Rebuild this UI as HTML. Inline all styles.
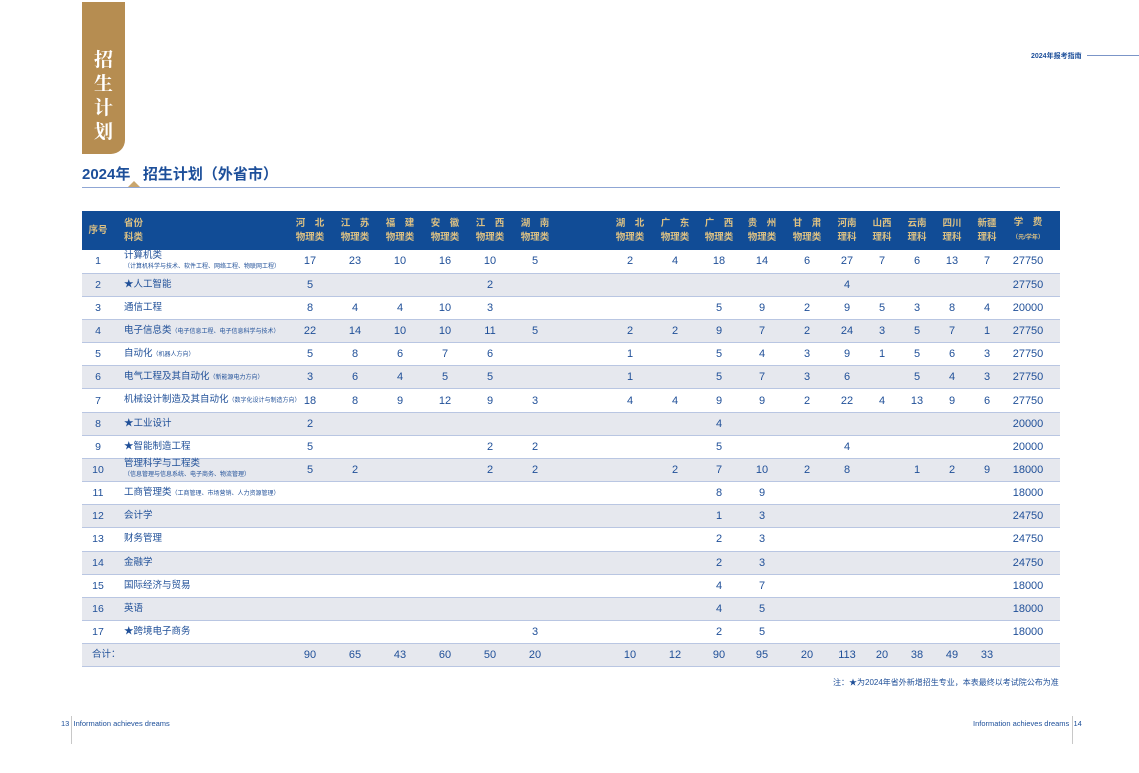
<!DOCTYPE html>
<html><head><meta charset="utf-8"><style>
*{margin:0;padding:0;box-sizing:border-box}
body{width:1139px;height:773px;background:#fff;position:relative;overflow:hidden;font-family:"Liberation Sans","Noto Sans CJK SC",sans-serif;color:#1f4f98}
.tab{position:absolute;left:82px;top:2px;width:43px;height:152px;background:#b68d51;border-bottom-right-radius:14px}
.tab div{color:#fff;font-family:"Noto Serif CJK SC",serif;font-weight:bold;font-size:19px;text-align:center;line-height:24px;margin-top:45px}
.title{position:absolute;left:82px;top:163px;font-size:15px;font-weight:bold;color:#1d4f9a}
.tline{position:absolute;left:82px;top:187px;width:978px;height:1px;background:#8fa6d4}
.tri{position:absolute;left:128px;top:181px;width:0;height:0;border-left:6px solid transparent;border-right:6px solid transparent;border-bottom:6px solid #c9a66d}
.hdr{position:absolute;left:1031px;top:51px;font-size:7px;font-weight:bold;color:#1d4f9a}
.hl{position:absolute;left:1087px;top:55px;width:52px;height:1px;background:#7b95c8}
table{position:absolute;left:82px;top:211px;width:978px;border-collapse:collapse;table-layout:fixed}
thead tr{background:#114c96;height:39px}
th{color:#dcc184;font-size:9.5px;font-weight:bold;line-height:14px;text-align:center;white-space:nowrap}
th.l{text-align:left;padding-left:10px}
th small{font-size:6px}
tbody tr{height:23.17px;border-bottom:1.5px solid #b9c6e2}
tbody tr.g{background:#e6e8ee}
td{font-size:11px;text-align:center;white-space:nowrap;vertical-align:middle}
td.n{font-size:10.5px}
td.l{text-align:left;padding-left:10px;font-size:9.5px;line-height:10px;overflow:visible}
td.l small{font-size:6px}
.note{position:absolute;left:833px;top:677px;font-size:8px}
.ft{position:absolute;top:719px;font-size:7.5px;color:#1d4f9a}
.vl{position:absolute;top:716px;width:1px;height:28px;background:#c8c8c8}
</style></head><body>
<div class="tab"><div>招<br>生<br>计<br>划</div></div>
<div class="title">2024年 &nbsp;&nbsp;招生计划（外省市）</div>
<div class="tri"></div>
<div class="tline"></div>
<div class="hdr">2024年报考指南</div><div class="hl"></div>
<table>
<colgroup><col style="width:32px"><col style="width:174px"><col style="width:44px"><col style="width:46px"><col style="width:44px"><col style="width:46px"><col style="width:44px"><col style="width:46px"><col style="width:50px"><col style="width:44px"><col style="width:46px"><col style="width:42px"><col style="width:44px"><col style="width:46px"><col style="width:34px"><col style="width:36px"><col style="width:34px"><col style="width:36px"><col style="width:34px"><col style="width:48px"><col style="width:8px"></colgroup>
<thead><tr><th>序号</th><th class="l">省份<br>科类</th><th>河　北<br>物理类</th><th>江　苏<br>物理类</th><th>福　建<br>物理类</th><th>安　徽<br>物理类</th><th>江　西<br>物理类</th><th>湖　南<br>物理类</th><th></th><th>湖　北<br>物理类</th><th>广　东<br>物理类</th><th>广　西<br>物理类</th><th>贵　州<br>物理类</th><th>甘　肃<br>物理类</th><th>河南<br>理科</th><th>山西<br>理科</th><th>云南<br>理科</th><th>四川<br>理科</th><th>新疆<br>理科</th><th>学　费<br><small>（元/学年）</small></th><th></th></tr></thead>
<tbody>
<tr><td class="n">1</td><td class="l">计算机类<br><small>（计算机科学与技术、软件工程、网络工程、物联网工程）</small></td><td>17</td><td>23</td><td>10</td><td>16</td><td>10</td><td>5</td><td></td><td>2</td><td>4</td><td>18</td><td>14</td><td>6</td><td>27</td><td>7</td><td>6</td><td>13</td><td>7</td><td>27750</td><td></td></tr>
<tr class="g"><td class="n">2</td><td class="l">★人工智能</td><td>5</td><td></td><td></td><td></td><td>2</td><td></td><td></td><td></td><td></td><td></td><td></td><td></td><td>4</td><td></td><td></td><td></td><td></td><td>27750</td><td></td></tr>
<tr><td class="n">3</td><td class="l">通信工程</td><td>8</td><td>4</td><td>4</td><td>10</td><td>3</td><td></td><td></td><td></td><td></td><td>5</td><td>9</td><td>2</td><td>9</td><td>5</td><td>3</td><td>8</td><td>4</td><td>20000</td><td></td></tr>
<tr class="g"><td class="n">4</td><td class="l">电子信息类<small>（电子信息工程、电子信息科学与技术）</small></td><td>22</td><td>14</td><td>10</td><td>10</td><td>11</td><td>5</td><td></td><td>2</td><td>2</td><td>9</td><td>7</td><td>2</td><td>24</td><td>3</td><td>5</td><td>7</td><td>1</td><td>27750</td><td></td></tr>
<tr><td class="n">5</td><td class="l">自动化<small>（机器人方向）</small></td><td>5</td><td>8</td><td>6</td><td>7</td><td>6</td><td></td><td></td><td>1</td><td></td><td>5</td><td>4</td><td>3</td><td>9</td><td>1</td><td>5</td><td>6</td><td>3</td><td>27750</td><td></td></tr>
<tr class="g"><td class="n">6</td><td class="l">电气工程及其自动化<small>（新能源电力方向）</small></td><td>3</td><td>6</td><td>4</td><td>5</td><td>5</td><td></td><td></td><td>1</td><td></td><td>5</td><td>7</td><td>3</td><td>6</td><td></td><td>5</td><td>4</td><td>3</td><td>27750</td><td></td></tr>
<tr><td class="n">7</td><td class="l">机械设计制造及其自动化<small>（数字化设计与制造方向）</small></td><td>18</td><td>8</td><td>9</td><td>12</td><td>9</td><td>3</td><td></td><td>4</td><td>4</td><td>9</td><td>9</td><td>2</td><td>22</td><td>4</td><td>13</td><td>9</td><td>6</td><td>27750</td><td></td></tr>
<tr class="g"><td class="n">8</td><td class="l">★工业设计</td><td>2</td><td></td><td></td><td></td><td></td><td></td><td></td><td></td><td></td><td>4</td><td></td><td></td><td></td><td></td><td></td><td></td><td></td><td>20000</td><td></td></tr>
<tr><td class="n">9</td><td class="l">★智能制造工程</td><td>5</td><td></td><td></td><td></td><td>2</td><td>2</td><td></td><td></td><td></td><td>5</td><td></td><td></td><td>4</td><td></td><td></td><td></td><td></td><td>20000</td><td></td></tr>
<tr class="g"><td class="n">10</td><td class="l">管理科学与工程类<br><small>（信息管理与信息系统、电子商务、物流管理）</small></td><td>5</td><td>2</td><td></td><td></td><td>2</td><td>2</td><td></td><td></td><td>2</td><td>7</td><td>10</td><td>2</td><td>8</td><td></td><td>1</td><td>2</td><td>9</td><td>18000</td><td></td></tr>
<tr><td class="n">11</td><td class="l">工商管理类<small>（工商管理、市场营销、人力资源管理）</small></td><td></td><td></td><td></td><td></td><td></td><td></td><td></td><td></td><td></td><td>8</td><td>9</td><td></td><td></td><td></td><td></td><td></td><td></td><td>18000</td><td></td></tr>
<tr class="g"><td class="n">12</td><td class="l">会计学</td><td></td><td></td><td></td><td></td><td></td><td></td><td></td><td></td><td></td><td>1</td><td>3</td><td></td><td></td><td></td><td></td><td></td><td></td><td>24750</td><td></td></tr>
<tr><td class="n">13</td><td class="l">财务管理</td><td></td><td></td><td></td><td></td><td></td><td></td><td></td><td></td><td></td><td>2</td><td>3</td><td></td><td></td><td></td><td></td><td></td><td></td><td>24750</td><td></td></tr>
<tr class="g"><td class="n">14</td><td class="l">金融学</td><td></td><td></td><td></td><td></td><td></td><td></td><td></td><td></td><td></td><td>2</td><td>3</td><td></td><td></td><td></td><td></td><td></td><td></td><td>24750</td><td></td></tr>
<tr><td class="n">15</td><td class="l">国际经济与贸易</td><td></td><td></td><td></td><td></td><td></td><td></td><td></td><td></td><td></td><td>4</td><td>7</td><td></td><td></td><td></td><td></td><td></td><td></td><td>18000</td><td></td></tr>
<tr class="g"><td class="n">16</td><td class="l">英语</td><td></td><td></td><td></td><td></td><td></td><td></td><td></td><td></td><td></td><td>4</td><td>5</td><td></td><td></td><td></td><td></td><td></td><td></td><td>18000</td><td></td></tr>
<tr><td class="n">17</td><td class="l">★跨境电子商务</td><td></td><td></td><td></td><td></td><td></td><td>3</td><td></td><td></td><td></td><td>2</td><td>5</td><td></td><td></td><td></td><td></td><td></td><td></td><td>18000</td><td></td></tr>
<tr class="g"><td class="l" colspan="2" style="padding-left:10px">合计：</td><td>90</td><td>65</td><td>43</td><td>60</td><td>50</td><td>20</td><td></td><td>10</td><td>12</td><td>90</td><td>95</td><td>20</td><td>113</td><td>20</td><td>38</td><td>49</td><td>33</td><td></td><td></td></tr>
</tbody></table>
<div class="note">注：★为2024年省外新增招生专业，本表最终以考试院公布为准</div>
<div class="ft" style="left:61px">13 &nbsp;Information achieves dreams</div>
<div class="ft" style="left:973px">Information achieves dreams &nbsp;14</div>
<div class="vl" style="left:71px"></div><div class="vl" style="left:1072px"></div>
</body></html>
